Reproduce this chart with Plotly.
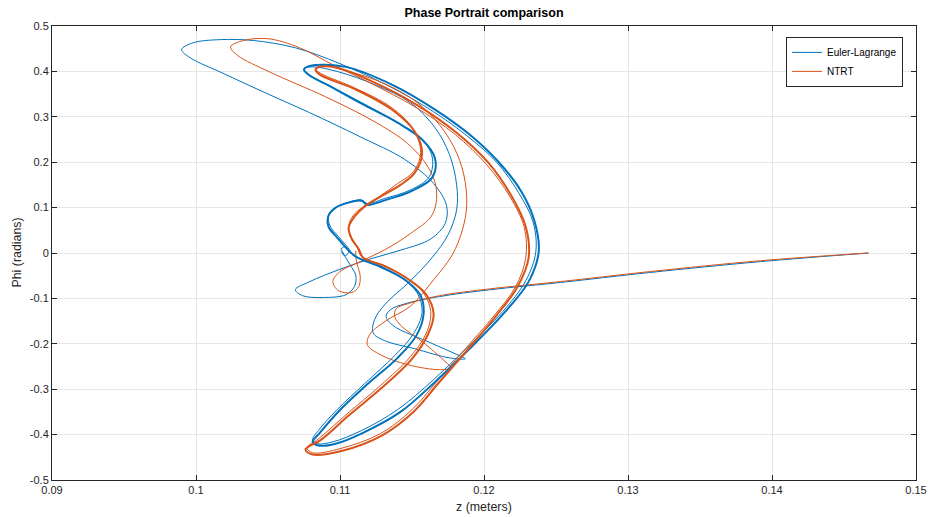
import plotly.graph_objects as go

# Euler-Lagrange trajectory (z in metres, phi in radians)
el_z = [0.1467, 0.1392, 0.1315, 0.1253, 0.1204, 0.1169, 0.1145, 0.1135, 0.1132, 0.1137,
        0.1163, 0.1180, 0.1187, 0.1176, 0.1152, 0.1131, 0.1123, 0.1124, 0.1131, 0.1149,
        0.1164, 0.1175, 0.1181, 0.1181, 0.1176, 0.1166, 0.1149, 0.1124, 0.1099, 0.1081,
        0.1075, 0.1077,
        0.1090, 0.1114, 0.1138, 0.1156, 0.1164, 0.1162, 0.1149, 0.1131, 0.1119, 0.1115,
        0.1107, 0.1098, 0.1092, 0.1093, 0.1099, 0.1105, 0.1110, 0.1128, 0.1144, 0.1154,
        0.1157, 0.1151, 0.1138, 0.1117, 0.1098, 0.1085, 0.1081, 0.1084, 0.1095, 0.1115,
        0.1140, 0.1165, 0.1189, 0.1213, 0.1229, 0.1236, 0.1234, 0.1224, 0.1209, 0.1189,
        0.1165, 0.1135, 0.1100,
        0.1069, 0.1040, 0.1017, 0.0998, 0.0990, 0.0996, 0.1018, 0.1048, 0.1079, 0.1114,
        0.1145, 0.1165, 0.1174, 0.1173, 0.1163, 0.1143, 0.1121, 0.1099, 0.1079, 0.1069,
        0.1074, 0.1088, 0.1104, 0.1110, 0.1111, 0.1107, 0.1104, 0.1102, 0.1101, 0.1104,
        0.1106, 0.1103, 0.1101]
el_phi = [0.000, -0.019, -0.043, -0.065, -0.081, -0.096, -0.112, -0.125, -0.140, -0.160,
          -0.198, -0.222, -0.233, -0.231, -0.211, -0.193, -0.176, -0.147, -0.114, -0.061,
          -0.010, 0.040, 0.095, 0.150, 0.217, 0.276, 0.331, 0.371, 0.399, 0.410,
          0.406, 0.395,
          0.373, 0.333, 0.291, 0.254, 0.212, 0.168, 0.139, 0.120, 0.109, 0.117,
          0.113, 0.102, 0.084, 0.060, 0.036, 0.014, -0.006, -0.028, -0.057, -0.090,
          -0.131, -0.178, -0.226, -0.288, -0.345, -0.391, -0.411, -0.420, -0.416, -0.391,
          -0.345, -0.279, -0.206, -0.129, -0.061, 0.003, 0.069, 0.133, 0.199, 0.256,
          0.311, 0.366, 0.417,
          0.452, 0.468, 0.470, 0.463, 0.448, 0.430, 0.397, 0.353, 0.309, 0.256,
          0.206, 0.153, 0.104, 0.065, 0.031, 0.007, -0.013, -0.037, -0.063, -0.081,
          -0.094, -0.098, -0.092, -0.074, -0.050, -0.026, -0.010, 0.001, 0.009, 0.014,
          0.001, -0.006, 0.003]

# repeated Euler-Lagrange orbit
el_loop_z = [0.1079, 0.1075, 0.1079, 0.1092, 0.1115, 0.1140, 0.1157, 0.1166, 0.1164, 0.1150,
             0.1132, 0.1119, 0.1115, 0.1106, 0.1097, 0.1092, 0.1092, 0.1098, 0.1104, 0.1111,
             0.1129, 0.1146, 0.1156, 0.1158, 0.1153, 0.1140, 0.1118, 0.1099, 0.1086, 0.1081,
             0.1085, 0.1097, 0.1116, 0.1142, 0.1166, 0.1190, 0.1214, 0.1231, 0.1238, 0.1235,
             0.1226, 0.1210, 0.1190, 0.1166, 0.1136, 0.1104, 0.1079]
el_loop_phi = [0.412, 0.404, 0.391, 0.369, 0.329, 0.287, 0.250, 0.208, 0.166, 0.137,
               0.117, 0.106, 0.115, 0.111, 0.100, 0.082, 0.058, 0.034, 0.012, -0.008,
               -0.032, -0.061, -0.094, -0.136, -0.182, -0.231, -0.292, -0.349, -0.396, -0.416,
               -0.424, -0.420, -0.396, -0.350, -0.284, -0.211, -0.132, -0.063, 0.003, 0.071,
               0.135, 0.201, 0.261, 0.316, 0.371, 0.410, 0.412]

# NTRT trajectory
ntrt_z = [0.1467, 0.1392, 0.1315, 0.1253, 0.1204, 0.1169, 0.1149, 0.1139, 0.1138, 0.1143,
          0.1157, 0.1173, 0.1177, 0.1169, 0.1147, 0.1128, 0.1119, 0.1121, 0.1133, 0.1149,
          0.1165, 0.1178, 0.1185, 0.1188, 0.1186, 0.1179, 0.1166, 0.1149, 0.1124, 0.1101,
          0.1088, 0.1083, 0.1087,
          0.1110, 0.1136, 0.1151, 0.1156, 0.1151, 0.1140, 0.1128, 0.1117, 0.1109, 0.1106,
          0.1108, 0.1112, 0.1115, 0.1131, 0.1147, 0.1158, 0.1163, 0.1160, 0.1149, 0.1128,
          0.1105, 0.1086, 0.1077, 0.1081, 0.1100, 0.1128, 0.1150, 0.1167, 0.1187, 0.1207,
          0.1222, 0.1229, 0.1228, 0.1218, 0.1202, 0.1180, 0.1152, 0.1122, 0.1096,
          0.1072, 0.1050, 0.1033, 0.1024, 0.1029, 0.1051, 0.1090, 0.1123, 0.1147, 0.1161,
          0.1167, 0.1164, 0.1149, 0.1131, 0.1114, 0.1100, 0.1095, 0.1099, 0.1108, 0.1113,
          0.1114, 0.1112, 0.1111, 0.1111]
ntrt_phi = [0.000, -0.017, -0.041, -0.063, -0.079, -0.094, -0.110, -0.123, -0.140, -0.162,
            -0.195, -0.239, -0.253, -0.257, -0.246, -0.224, -0.202, -0.178, -0.147, -0.117,
            -0.059, -0.004, 0.051, 0.106, 0.172, 0.234, 0.294, 0.342, 0.382, 0.404,
            0.413, 0.406, 0.395,
            0.364, 0.320, 0.272, 0.221, 0.179, 0.153, 0.126, 0.104, 0.082, 0.058,
            0.034, 0.012, -0.008, -0.028, -0.057, -0.088, -0.129, -0.176, -0.228, -0.292,
            -0.354, -0.407, -0.429, -0.440, -0.431, -0.398, -0.345, -0.284, -0.211, -0.138,
            -0.074, -0.010, 0.056, 0.124, 0.194, 0.261, 0.322, 0.373, 0.413,
            0.452, 0.472, 0.468, 0.454, 0.435, 0.399, 0.344, 0.291, 0.241, 0.190,
            0.139, 0.084, 0.043, 0.007, -0.019, -0.041, -0.063, -0.083, -0.087, -0.074,
            -0.050, -0.026, -0.008, 0.005]

# repeated NTRT orbit
ntrt_loop_z = [0.1086, 0.1083, 0.1086, 0.1111, 0.1136, 0.1152, 0.1157, 0.1152, 0.1142, 0.1128,
               0.1117, 0.1110, 0.1106, 0.1108, 0.1113, 0.1116, 0.1132, 0.1149, 0.1160, 0.1165,
               0.1161, 0.1150, 0.1129, 0.1106, 0.1087, 0.1076, 0.1081, 0.1101, 0.1129, 0.1151,
               0.1168, 0.1188, 0.1208, 0.1223, 0.1231, 0.1229, 0.1219, 0.1203, 0.1181, 0.1153,
               0.1123, 0.1098, 0.1086]
ntrt_loop_phi = [0.410, 0.404, 0.393, 0.360, 0.316, 0.267, 0.219, 0.177, 0.150, 0.124,
                 0.102, 0.080, 0.056, 0.032, 0.009, -0.010, -0.030, -0.061, -0.092, -0.134,
                 -0.180, -0.233, -0.297, -0.358, -0.411, -0.433, -0.444, -0.436, -0.402, -0.350,
                 -0.288, -0.215, -0.140, -0.076, -0.010, 0.058, 0.126, 0.199, 0.265, 0.327,
                 0.377, 0.408, 0.410]

x_ticks = [0.09, 0.10, 0.11, 0.12, 0.13, 0.14, 0.15]
x_labels = ["0.09", "0.1", "0.11", "0.12", "0.13", "0.14", "0.15"]
y_ticks = [0.5, 0.4, 0.3, 0.2, 0.1, 0.0, -0.1, -0.2, -0.3, -0.4, -0.5]
y_labels = ["0.5", "0.4", "0.3", "0.2", "0.1", "0", "-0.1", "-0.2", "-0.3", "-0.4", "-0.5"]

BLUE = "#0072BD"
ORANGE = "#D95319"
FONT = "Liberation Sans, Arial, sans-serif"

fig = go.Figure()
fig.add_trace(go.Scatter(x=el_z, y=el_phi, mode="lines", name="Euler-Lagrange",
                         line=dict(color=BLUE, width=1, shape="spline", smoothing=1.0)))
fig.add_trace(go.Scatter(x=ntrt_z, y=ntrt_phi, mode="lines", name="NTRT",
                         line=dict(color=ORANGE, width=1, shape="spline", smoothing=1.0)))
fig.add_trace(go.Scatter(x=el_loop_z, y=el_loop_phi, mode="lines", name="Euler-Lagrange",
                         showlegend=False,
                         line=dict(color=BLUE, width=2, shape="spline", smoothing=1.0)))
fig.add_trace(go.Scatter(x=ntrt_loop_z, y=ntrt_loop_phi, mode="lines", name="NTRT",
                         showlegend=False,
                         line=dict(color=ORANGE, width=2, shape="spline", smoothing=1.0)))

axis_common = dict(
    showgrid=True, gridcolor="#e6e6e6", gridwidth=1,
    showline=True, linecolor="#262626", linewidth=1, mirror="ticks",
    ticks="inside", ticklen=5, tickcolor="#262626", tickwidth=1,
    zeroline=False, automargin=False,
    tickfont=dict(family=FONT, size=11, color="#262626"),
)
fig.update_xaxes(range=[0.09, 0.15], tickvals=x_ticks, ticktext=x_labels, **axis_common)
fig.update_yaxes(range=[-0.5, 0.5], tickvals=y_ticks, ticktext=y_labels, **axis_common)

fig.update_layout(
    width=928, height=517,
    margin=dict(l=52, r=12, t=26, b=37, autoexpand=False),
    paper_bgcolor="white", plot_bgcolor="white",
    font=dict(family=FONT, size=10, color="#262626"),
    title=dict(text="<b>Phase Portrait comparison</b>", x=0.5, xref="paper",
               y=1 - 13 / 517, yanchor="middle", font=dict(family=FONT, size=12.5, color="#000000")),
    legend=dict(x=0.985, y=0.976, xanchor="right", yanchor="top",
                bgcolor="white", bordercolor="#262626", borderwidth=1,
                font=dict(family=FONT, size=10, color="#000000"),
                tracegroupgap=0, itemwidth=30),
    showlegend=True,
    annotations=[
        dict(text="z (meters)", x=0.5, y=-0.059, xref="paper", yref="paper",
             showarrow=False, font=dict(family=FONT, size=12.4, color="#262626"), yanchor="middle"),
        dict(text="Phi (radians)", x=-0.041, y=0.5, xref="paper", yref="paper",
             showarrow=False, textangle=-90, font=dict(family=FONT, size=12.4, color="#262626"),
             xanchor="center"),
    ],
)

fig.write_html("out.html")
